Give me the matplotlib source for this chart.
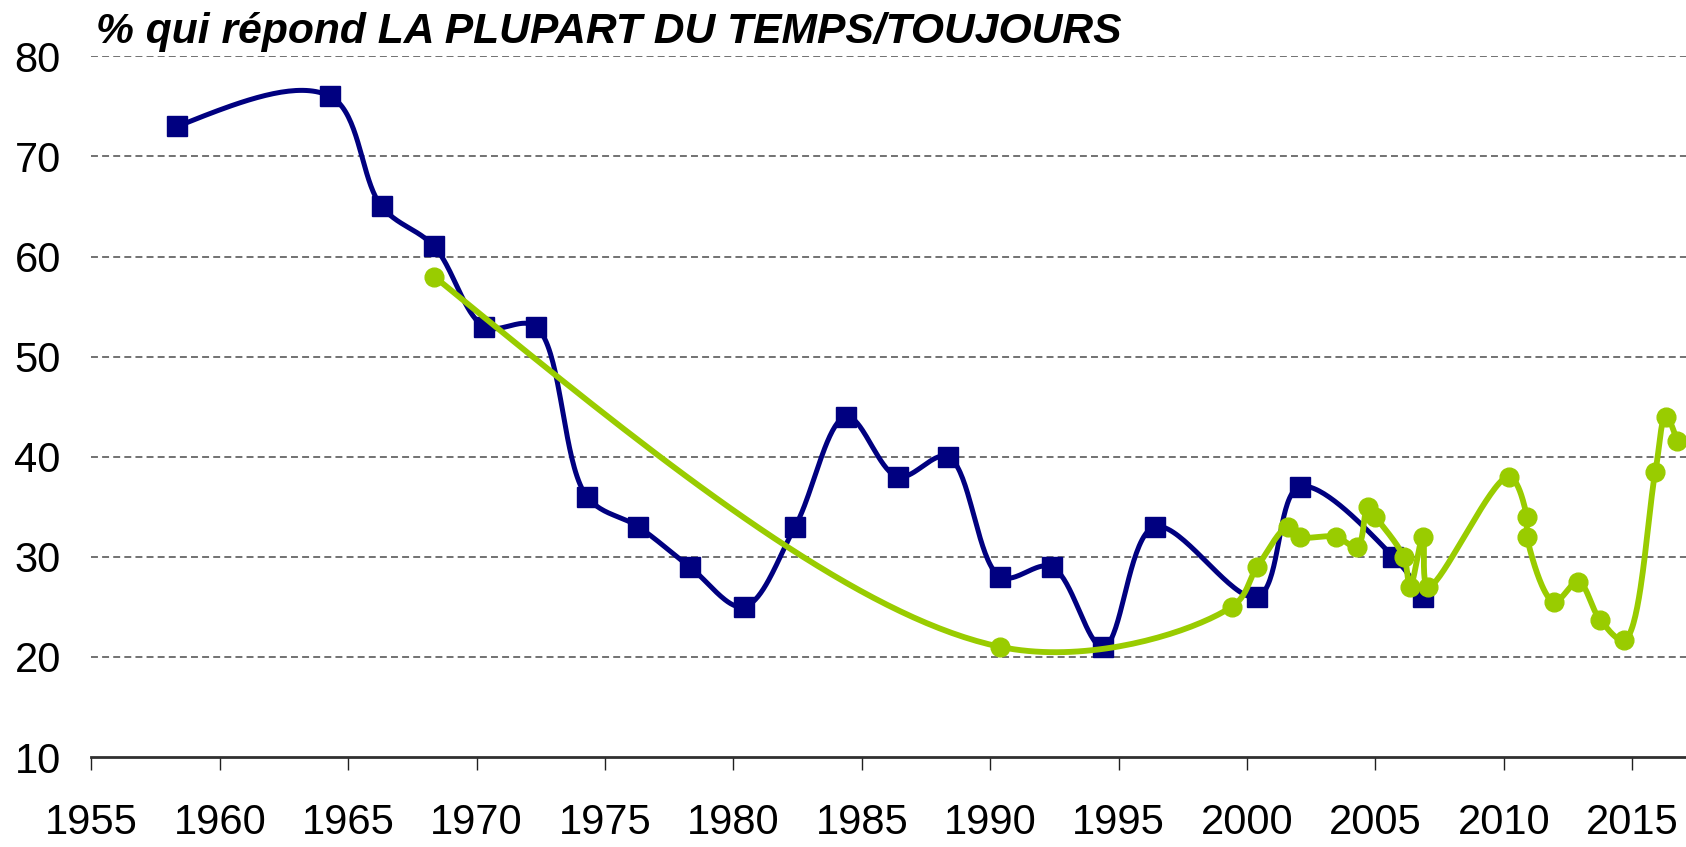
import numpy as np
import matplotlib
matplotlib.use("Agg")
import matplotlib.pyplot as plt

# ---- data ----
navy_years = [1958.35, 1964.3, 1966.3, 1968.35, 1970.3, 1972.3, 1974.3, 1976.3,
              1978.3, 1980.4, 1982.4, 1984.4, 1986.4, 1988.35, 1990.4, 1992.4,
              1994.4, 1996.4, 2000.4, 2002.05, 2005.7, 2006.85]
navy_values = [73, 76, 65, 61, 53, 53, 36, 33, 29, 25, 33, 44, 38, 40, 28, 29,
               21, 33, 26, 37, 30, 26]

green_years = [1968.35, 1990.4, 1999.4, 2000.4, 2001.6, 2002.05, 2003.45, 2004.3,
               2004.7, 2005.0, 2006.1, 2006.35, 2006.85, 2007.05, 2010.2, 2010.9,
               2010.9, 2011.95, 2012.9, 2013.75, 2014.7, 2015.9, 2016.3, 2016.75]
green_values = [58, 21, 25, 29, 33, 32, 32, 31, 35, 34, 30, 27, 32, 27, 38, 34,
                32, 25.5, 27.5, 23.7, 21.7, 38.5, 44, 41.6]

x_ticks = list(range(1955, 2016, 5))
y_ticks = list(range(10, 81, 10))
title = "% qui répond LA PLUPART DU TEMPS/TOUJOURS"

NAVY = "#000080"
GREEN = "#99CC00"


def smooth(ax, xs, ys, n=40, alpha=0.5):
    """Smoothed line (centripetal Catmull-Rom as cubic Beziers, screen space)."""
    P = ax.transData.transform(np.column_stack([xs, ys]).astype(float))
    m = len(P)
    D = np.array([max(np.hypot(*(P[i + 1] - P[i])), 1e-6) ** alpha for i in range(m - 1)])
    M = [None] * m
    for i in range(1, m - 1):
        a, b = D[i - 1], D[i]
        M[i] = (P[i] - P[i - 1]) / a - (P[i + 1] - P[i - 1]) / (a + b) + (P[i + 1] - P[i]) / b
    segs = []
    for i in range(m - 1):
        c1 = P[i] + M[i] * D[i] / 3 if M[i] is not None else None
        c2 = P[i + 1] - M[i + 1] * D[i] / 3 if M[i + 1] is not None else None
        segs.append([P[i], c1, c2, P[i + 1]])
    for s in segs:
        p1, c1, c2, p2 = s
        if c1 is None and c2 is None:
            s[1] = p1 + (p2 - p1) / 3
            s[2] = p2 - (p2 - p1) / 3
        elif c1 is None:
            s[1] = (p1 + c2) / 2
        elif c2 is None:
            s[2] = (p2 + c1) / 2
    t = np.linspace(0, 1, n)[:, None]
    out = []
    for i, (p1, c1, c2, p2) in enumerate(segs):
        seg = ((1 - t) ** 3) * p1 + 3 * ((1 - t) ** 2) * t * c1 + 3 * (1 - t) * t ** 2 * c2 + t ** 3 * p2
        out.append(seg if i == 0 else seg[1:])
    S = ax.transData.inverted().transform(np.vstack(out))
    return S[:, 0], S[:, 1]


plt.rcParams['font.family'] = ['Liberation Sans', 'DejaVu Sans']

W, H = 1686, 847
fig = plt.figure(figsize=(W / 100, H / 100), dpi=100)
left = 91.4 / W
bottom = 1 - 757 / H
top = 1 - 56.3 / H
ax = fig.add_axes([left, bottom, 1 - left, top - bottom])

x_max = 1955 + (W - 91.4) / 25.68
ax.set_xlim(1955, x_max)
ax.set_ylim(10, 80)

sx, sy = smooth(ax, navy_years, navy_values)
ax.plot(sx, sy, color=NAVY, lw=3.6, solid_capstyle='round', solid_joinstyle='round',
        zorder=3, clip_on=False)
ax.plot(navy_years, navy_values, ls='none', marker='s', ms=14, color=NAVY,
        mec=NAVY, zorder=4, clip_on=False)

gx, gy = smooth(ax, green_years, green_values)
ax.plot(gx, gy, color=GREEN, lw=4.2, solid_capstyle='round', solid_joinstyle='round',
        zorder=5, clip_on=False)
ax.plot(green_years, green_values, ls='none', marker='o', ms=13.5, color=GREEN,
        mec=GREEN, zorder=6, clip_on=False)

# grid
for v in y_ticks[1:]:
    ax.axhline(v, color='#606060', lw=1.25, ls=(0, (4.0, 2.4)), zorder=1)

for s in ['top', 'right', 'left']:
    ax.spines[s].set_visible(False)
ax.spines['bottom'].set_color('#303030')
ax.spines['bottom'].set_linewidth(2.0)

ax.set_xticks(x_ticks)
ax.set_xticklabels([str(t) for t in x_ticks])
ax.set_yticks(y_ticks)
ax.set_yticklabels([str(t) for t in y_ticks])
ax.tick_params(axis='x', direction='out', length=9, width=1.0, color='#202020',
               labelsize=30, pad=24)
ax.tick_params(axis='y', length=0, labelsize=30, pad=22)

fig.text(96 / W, 1 - 43.3 / H, title, fontsize=30.7, fontweight='bold',
         fontstyle='italic', ha='left', va='baseline')

fig.savefig("out.png", dpi=100)
